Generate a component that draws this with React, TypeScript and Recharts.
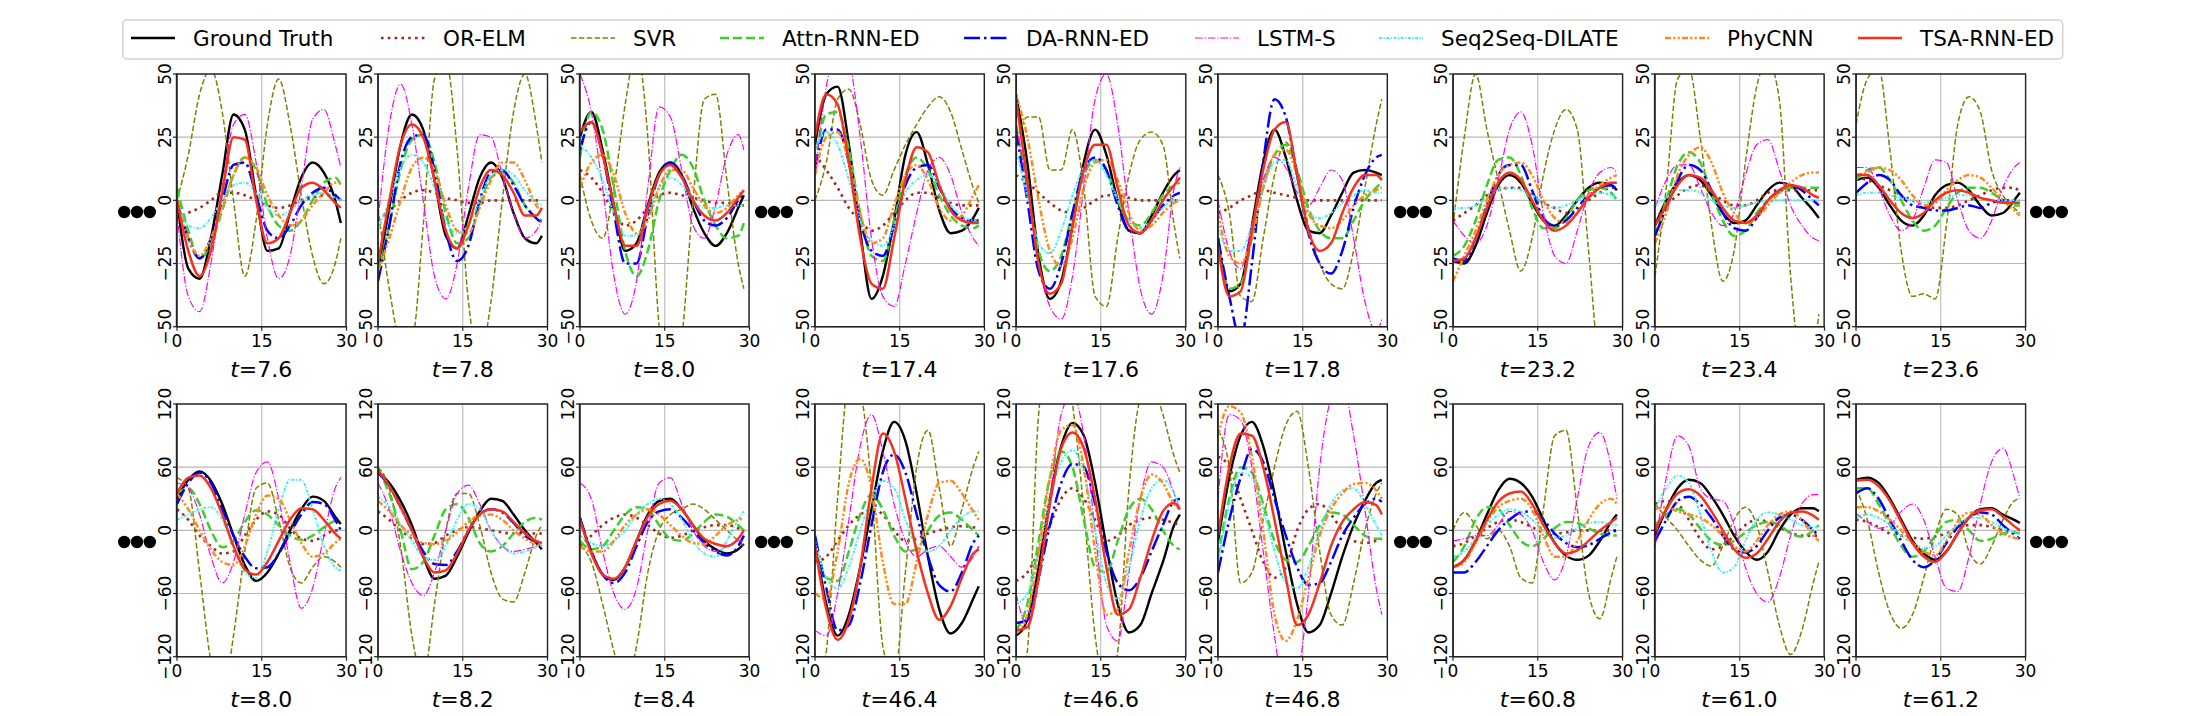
import React from 'react';
import { LineChart, Line, XAxis, YAxis, CartesianGrid } from 'recharts';

// ---------- categories / names ----------
const X_VALUES = [0, 2, 4, 6, 8, 10, 12, 14, 16, 18, 20, 22, 24, 26, 28, 29];
const X_TICKS = [0, 15, 30];
const Y_TICKS_TOP = [-50, -25, 0, 25, 50];
const Y_TICKS_BOTTOM = [-120, -60, 0, 60, 120];
const SERIES_NAMES = ['Ground Truth', 'OR-ELM', 'SVR', 'Attn-RNN-ED', 'DA-RNN-ED', 'LSTM-S', 'Seq2Seq-DILATE', 'PhyCNN', 'TSA-RNN-ED'];
const TOP_T = ['7.6', '7.8', '8.0', '17.4', '17.6', '17.8', '23.2', '23.4', '23.6'];
const BOTTOM_T = ['8.0', '8.2', '8.4', '46.4', '46.6', '46.8', '60.8', '61.0', '61.2'];

// ---------- series values (order: GT, OR-ELM, SVR, Attn, DA, LSTM-S, DILATE, PhyCNN, TSA) ----------
const T76 = [
  [0, -27, -31, -15, 10, 34, 28, 2, -20, -19, -5, 9, 15, 11, 0, -9],
  [-8, -5, -3, 0, 3, 3, 2, 0, -2, -3, -2, 0, 1, 2, 2, 2],
  [0, 18, 42, 52, 35, 0, -30, -8, 30, 48, 30, 2, -22, -33, -25, -15],
  [5, -12, -23, -17, -4, 10, 17, 12, -2, -10, -12, -8, 0, 7, 9, 6],
  [0, -15, -23, -15, 0, 14, 15, 2, -12, -15, -10, -2, 3, 5, 2, 0],
  [-5, -38, -44, -25, 5, 30, 34, 15, -15, -31, -22, 5, 32, 36, 22, 13],
  [0, -10, -11, -7, 0, 6, 7, 3, -3, -6, -4, 0, 2, 3, 1, 0],
  [0, -15, -22, -15, -3, 10, 17, 13, 2, -6, -10, -8, -2, 3, 7, 7],
  [0, -20, -30, -20, 3, 25, 24, 0, -17, -15, -5, 5, 7, 4, -1, -3],
];
const T78 = [
  [-28, -3, 22, 34, 28, 8, -14, -19, -6, 9, 15, 9, -5, -15, -17, -14],
  [-8, -4, 0, 3, 4, 3, 1, 0, -1, -1, 0, 0, 0, 0, 0, 0],
  [-3, -35, -55, -55, -10, 48, 55, 20, -40, -62, -40, 0, 35, 50, 30, 15],
  [-28, -10, 12, 24, 26, 15, -5, -17, -15, -2, 9, 11, 7, -2, -7, -8],
  [-32, -10, 15, 25, 26, 12, -12, -24, -18, 0, 11, 12, 6, -2, -7, -9],
  [-8, 30, 46, 30, 0, -30, -39, -25, 5, 26, 25, 10, -5, -15, -12, -8],
  [-12, 0, 13, 18, 15, 5, -8, -13, -10, 0, 10, 12, 10, 4, -1, -2],
  [-28, -15, 0, 13, 17, 12, -2, -12, -13, -3, 8, 15, 15, 8, -2, -5],
  [-25, 0, 22, 30, 25, 8, -12, -19, -10, 5, 12, 10, 3, -6, -6, -3],
];
const T80 = [
  [25, 35, 20, -2, -20, -17, -2, 11, 15, 10, -3, -13, -18, -13, -3, 2],
  [12, 9, 3, -5, -10, -8, -3, 2, 3, 2, 1, 0, -1, -1, -2, -2],
  [10, -8, -15, 5, 38, 60, 25, -50, -75, -55, 0, 40, 42, 8, -25, -35],
  [17, 35, 28, 5, -20, -30, -20, 0, 12, 18, 13, 0, -10, -15, -14, -9],
  [20, 31, 18, -5, -25, -25, -6, 10, 15, 10, 0, -8, -10, -7, 0, 3],
  [50, 35, 5, -30, -45, -32, 5, 37, 33, 12, -10, -15, -2, 18, 26, 20],
  [22, 17, 8, -5, -14, -14, -5, 5, 9, 6, 0, -3, -3, -2, -2, -2],
  [5, 15, 18, 10, -5, -13, -8, 5, 12, 12, 5, -2, -5, -3, 2, 4],
  [27, 31, 18, -2, -18, -18, -3, 10, 14, 9, 0, -6, -8, -5, 1, 4],
];
const T174 = [
  [22, 42, 45, 22, -12, -39, -30, -8, 18, 27, 14, -4, -13, -12, -7, -3],
  [18, 12, 5, -3, -8, -12, -10, -5, 0, 3, 3, 1, -1, -2, -2, -2],
  [0, 15, 40, 44, 30, 8, 2, 12, 22, 30, 37, 41, 35, 20, 5, -1],
  [15, 34, 35, 20, -5, -22, -24, -8, 10, 17, 12, 2, -6, -10, -11, -10],
  [12, 28, 28, 15, -8, -20, -22, -10, 6, 13, 14, 5, -3, -7, -8, -8],
  [10, 45, 60, 55, 25, -15, -38, -42, -25, -5, 12, 17, 10, -5, -15, -18],
  [20, 27, 22, 8, -8, -16, -18, -10, 3, 8, 10, 6, -2, -6, -8, -8],
  [10, 25, 27, 15, -5, -17, -15, -2, 10, 14, 8, -3, -8, -6, 2, 6],
  [25, 42, 38, 15, -15, -33, -35, -15, 8, 21, 19, 6, -4, -8, -9, -9],
];
const T176 = [
  [42, 15, -22, -39, -32, -10, 15, 28, 18, 0, -12, -13, -6, 3, 10, 12],
  [10, 7, 3, -1, -4, -5, -3, 0, 2, 2, 1, 0, 0, 0, 0, 0],
  [20, 33, 33, 12, 12, 28, 5, -38, -42, -15, 10, 24, 27, 22, -10, -23],
  [30, 5, -20, -28, -22, -5, 10, 16, 12, 0, -8, -10, -5, 2, 6, 7],
  [28, 0, -28, -35, -25, -5, 12, 17, 12, -2, -12, -13, -8, -2, 2, 3],
  [30, 5, -25, -42, -47, -30, 5, 40, 50, 30, -5, -35, -45, -30, 5, 13],
  [20, 2, -17, -21, -12, 2, 13, 16, 10, 0, -8, -11, -8, -3, 0, 0],
  [42, 25, 0, -20, -26, -15, 5, 15, 16, 8, -5, -12, -10, -5, -1, 0],
  [40, 8, -25, -37, -33, -10, 12, 22, 22, 5, -10, -13, -8, 0, 6, 9],
];
const T178 = [
  [-15, -36, -33, -10, 15, 28, 17, 0, -12, -13, -6, 3, 11, 12, 11, 10],
  [-5, -3, 0, 2, 4, 3, 2, 1, 0, 0, 0, 0, 0, 0, 0, 0],
  [10, -5, -38, -40, -15, 10, 23, 12, -10, -25, -33, -35, -20, 5, 30, 40],
  [-15, -35, -33, -15, 5, 18, 22, 12, -3, -12, -15, -15, -8, 0, 5, 7],
  [-15, -38, -55, -25, 15, 40, 33, 10, -13, -25, -29, -20, -3, 10, 17, 18],
  [0, -20, -27, -10, 8, 17, 13, 3, -2, 5, 12, 8, -15, -40, -52, -47],
  [-10, -20, -20, -10, 5, 15, 16, 5, -5, -7, -5, -1, 2, 4, 3, 3],
  [-5, -22, -25, -15, 5, 18, 20, 10, -5, -10, -11, -8, -2, 2, 4, 5],
  [-18, -38, -36, -12, 12, 28, 31, 10, -12, -20, -17, -5, 5, 10, 10, 8],
];
const T232 = [
  [-24, -25, -18, -5, 6, 10, 7, -1, -8, -10, -6, 0, 5, 7, 6, 4],
  [-8, -5, -2, 2, 4, 5, 5, 2, -1, -3, -5, -4, 0, 3, 5, 5],
  [-10, 25, 50, 28, 8, -12, -28, -15, 10, 28, 36, 28, -20, -65, -70, -70],
  [-22, -18, -8, 6, 16, 17, 10, -3, -11, -11, -7, 0, 4, 5, 3, 0],
  [-23, -24, -15, -2, 10, 14, 14, 4, -7, -10, -8, -3, 2, 5, 6, 4],
  [-8, -14, -17, -10, 8, 28, 35, 22, -5, -22, -25, -12, 3, 11, 13, 11],
  [-3, -3, -2, 1, 4, 5, 4, 2, -1, -3, -2, 0, 2, 3, 2, 1],
  [-32, -22, -12, 0, 10, 14, 15, 10, 0, -7, -9, -5, 2, 6, 9, 10],
  [-24, -23, -15, -3, 7, 11, 8, 0, -8, -12, -10, -5, 1, 5, 7, 7],
];
const T234 = [
  [-10, 0, 7, 10, 8, 2, -5, -9, -8, -2, 4, 7, 6, 1, -4, -7],
  [-8, -2, 2, 5, 6, 3, 0, -2, -2, 0, 3, 4, 4, 4, 4, 4],
  [-30, 5, 48, 52, 25, -10, -32, -20, 15, 45, 55, 40, -30, -65, -60, -45],
  [-14, 0, 14, 19, 15, 3, -8, -14, -12, -5, 0, 3, 5, 5, 5, 5],
  [-14, -3, 8, 14, 12, 4, -5, -11, -12, -7, 0, 4, 6, 4, 0, -2],
  [-3, 8, 14, 14, 5, -5, -10, -5, 10, 22, 24, 12, -2, -10, -15, -16],
  [-2, 1, 4, 4, 3, 0, -2, -3, -2, -1, 0, 0, 0, 0, 0, 0],
  [-17, -5, 10, 18, 21, 15, 3, -5, -9, -7, -2, 3, 7, 10, 11, 11],
  [-10, -2, 6, 10, 9, 4, -3, -8, -9, -6, 0, 4, 6, 5, 2, 1],
];
const T236 = [
  [8, 9, 5, -2, -8, -10, -6, 2, 6, 7, 4, -2, -6, -5, 0, 3],
  [9, 8, 6, 4, 2, 0, -2, -3, -3, -2, 0, 2, 4, 5, 5, 3],
  [30, 48, 52, 20, -20, -38, -37, -39, -10, 30, 41, 35, 12, 2, -3, -5],
  [8, 12, 13, 8, 0, -8, -12, -10, -3, 3, 5, 5, 3, 0, -2, -2],
  [3, 7, 10, 8, 2, -2, -3, -4, -4, -3, -2, -3, -1, 0, 0, 0],
  [13, 13, 5, -6, -12, -8, 5, 16, 15, 0, -12, -15, -8, 5, 13, 15],
  [2, 3, 3, 2, 1, 0, -1, 0, 1, 2, 2, 1, 0, 0, 0, 0],
  [10, 11, 13, 12, 8, 2, -2, -1, 4, 8, 10, 9, 5, 0, -4, -6],
  [10, 10, 6, 0, -5, -7, -5, 0, 3, 4, 3, 1, 0, -1, -1, -1],
];
const B80 = [
  [30, 48, 56, 47, 25, -5, -33, -48, -40, -22, 0, 20, 32, 28, 13, 6],
  [20, 10, -5, -15, -22, -20, -5, 10, 18, 15, 2, -8, -10, -5, 0, 0],
  [50, 40, -40, -125, -160, -100, -20, 40, 45, 10, -35, -50, -35, -25, -30, -35],
  [35, 40, 25, 0, -16, -10, 8, 19, 15, 5, -5, -9, -5, 3, 9, 10],
  [25, 45, 55, 45, 20, -5, -25, -36, -35, -22, -3, 15, 27, 25, 10, 0],
  [45, 40, 15, -25, -50, -30, 15, 55, 65, 30, -30, -74, -55, -5, 40, 50],
  [10, 15, 20, 22, 10, -15, -40, -45, -20, 20, 48, 48, 20, -15, -35, -38],
  [35, 20, 0, -18, -30, -33, -15, 15, 33, 30, 10, -12, -25, -22, -12, -8],
  [35, 50, 52, 40, 15, -15, -37, -42, -30, -10, 10, 21, 20, 10, -3, -8],
];
const B82 = [
  [55, 45, 28, 5, -25, -46, -43, -25, -2, 18, 30, 28, 15, 0, -12, -18],
  [18, 10, 0, -8, -13, -12, -5, 0, 3, 2, 0, -2, -3, -3, -3, -3],
  [60, 40, -15, -100, -140, -70, 0, 35, 35, 5, -40, -65, -68, -40, -5, 5],
  [58, 35, 0, -37, -30, -5, 20, 25, 12, -12, -20, -15, -3, 8, 12, 10],
  [55, 42, 22, 0, -20, -32, -33, -20, 0, 15, 20, 17, 7, -5, -11, -13],
  [45, 20, -20, -50, -62, -40, 0, 35, 43, 25, 0, -15, -20, -18, -15, -12],
  [32, 22, 5, -10, -25, -28, -15, 10, 25, 20, 0, -15, -22, -20, -16, -15],
  [28, 18, 5, -5, -12, -13, -10, -2, 8, 14, 15, 10, 0, -8, -13, -15],
  [57, 42, 22, 0, -25, -40, -38, -22, 0, 15, 20, 18, 8, -3, -10, -12],
];
const B84 = [
  [10, -20, -42, -47, -35, -10, 15, 28, 30, 20, 5, -10, -18, -22, -18, -13],
  [-15, -5, 5, 12, 15, 12, 5, -3, -7, -5, 0, 3, 5, 5, 2, 0],
  [-15, -30, -70, -115, -150, -110, -40, 0, 15, 20, 25, 20, 10, 0, -10, -15],
  [-10, -18, -15, 0, 15, 22, 20, 5, -8, -10, -3, 8, 15, 13, 5, 0],
  [12, -20, -42, -50, -40, -15, 8, 18, 20, 12, 0, -12, -20, -24, -15, -5],
  [45, 30, -20, -60, -75, -55, 0, 45, 50, 25, 0, -15, -20, -15, -10, -10],
  [-5, -12, -15, -10, 0, 15, 25, 30, 25, 10, -10, -22, -25, -10, 10, 18],
  [-15, -20, -20, -10, 5, 15, 20, 15, 5, -5, -12, -13, -5, 5, 10, 12],
  [10, -22, -42, -46, -35, -10, 13, 25, 28, 20, 5, -8, -13, -15, -8, 0],
];
const B464 = [
  [-10, -70, -100, -80, -35, 20, 75, 103, 85, 35, -25, -75, -98, -88, -65, -53],
  [-30, -25, -10, 5, 15, 20, 15, 0, -10, -8, -3, 0, 3, 4, 3, 2],
  [-160, -115, 30, 140, 130, 40, -110, -140, -40, 60, 95, 40, -15, 20, 60, 75],
  [-20, -45, -48, -20, 15, 34, 20, -5, -20, -18, 0, 14, 17, 10, 0, -5],
  [-5, -55, -95, -90, -50, 5, 55, 72, 55, 15, -25, -52, -58, -40, -12, -5],
  [-95, -100, -60, 10, 80, 110, 75, 25, -10, -25, -18, -15, -25, -35, -25, -15],
  [-10, -45, -55, -35, 0, 30, 47, 40, 10, -15, -20, -15, 0, 12, 18, 18],
  [-60, -65, -20, 45, 68, 40, -30, -70, -70, -30, 15, 45, 47, 35, 18, 10],
  [-15, -75, -104, -85, -35, 40, 92, 75, 30, -20, -60, -85, -72, -45, -22, -18],
];
const B466 = [
  [-100, -85, -35, 30, 80, 102, 90, 45, -15, -70, -97, -90, -60, -30, 5, 15],
  [-48, -40, -20, 5, 30, 40, 30, 10, -10, -5, 5, 10, 12, 10, 7, 5],
  [-160, -115, 110, 170, 170, 120, 20, -100, -150, -115, 40, 125, 140, 110, 70, 55],
  [-95, -70, -10, 50, 75, 60, 10, -35, -40, -10, 20, 30, 20, 0, -15, -18],
  [-88, -85, -45, 5, 45, 63, 60, 25, -20, -50, -57, -45, -20, 5, 28, 30],
  [-60, -90, -50, 30, 110, 130, 90, 0, -90, -105, -40, 30, 65, 60, 35, 20],
  [-70, -60, -20, 30, 65, 76, 55, 0, -50, -65, -35, 10, 40, 48, 35, 20],
  [-98, -80, -20, 50, 95, 100, 60, -20, -80, -75, -20, 30, 53, 45, 25, 20],
  [-95, -92, -45, 25, 78, 93, 78, 30, -35, -80, -75, -45, -10, 18, 26, 20],
];
const B468 = [
  [-10, 50, 90, 103, 80, 35, -20, -70, -97, -90, -60, -25, 5, 28, 45, 48],
  [70, 60, 30, 0, -30, -45, -35, 0, 20, 25, 15, 0, -10, -12, -10, -8],
  [95, 60, -50, -40, 10, 60, 100, 113, 60, -20, -80, -90, -50, 0, 35, 45],
  [-25, 30, 60, 55, 25, -10, -28, -30, -15, 5, 17, 15, 5, -5, -8, -8],
  [-40, 10, 50, 77, 65, 30, -5, -35, -52, -50, -30, -5, 12, 25, 30, 27],
  [30, 110, 105, 60, -20, -100, -160, -140, -60, 60, 125, 140, 90, 20, -55, -80],
  [-30, 25, 55, 50, 20, -20, -50, -55, -35, 0, 25, 38, 40, 25, 5, -5],
  [90, 118, 112, 70, 0, -80, -105, -85, -45, -5, 20, 35, 44, 45, 38, 30],
  [-5, 60, 92, 90, 60, 10, -45, -90, -80, -50, -15, 8, 20, 27, 24, 15],
];
const B608 = [
  [-35, -28, -10, 15, 38, 49, 45, 32, 10, -12, -24, -28, -24, -10, 8, 15],
  [-15, -12, -5, 2, 8, 10, 8, 3, -2, -3, -2, 0, 0, 0, 0, 0],
  [0, 17, 5, -8, 0, -15, -45, -50, 20, 90, 95, 20, -60, -84, -45, -25],
  [-30, -15, 10, 22, 20, 5, -10, -15, -8, 2, 8, 7, 2, -3, -5, -5],
  [-40, -40, -30, -15, 0, 10, 17, 18, 10, -3, -12, -16, -14, -8, -2, 0],
  [-10, -8, -5, -5, 5, 18, 15, 0, -30, -47, -25, 30, 80, 93, 60, 30],
  [-25, -20, -8, 5, 15, 20, 18, 10, 0, -7, -5, 2, 7, 8, 6, 5],
  [-35, -30, -12, 8, 22, 28, 30, 20, -5, -25, -25, -10, 10, 25, 30, 25],
  [-35, -28, -10, 10, 27, 35, 37, 25, 5, -12, -22, -19, -10, 0, 8, 12],
];
const B610 = [
  [-5, 20, 40, 48, 45, 32, 15, -5, -20, -28, -20, 0, 15, 21, 21, 18],
  [25, 28, 25, 10, -8, -18, -15, -5, 5, 10, 8, 3, -2, -5, -5, -5],
  [25, 12, 0, -15, -28, -34, -15, 10, 22, 5, -40, -90, -118, -95, -50, -30],
  [5, 15, 20, 15, 2, -10, -14, -10, -2, 5, 8, 5, -3, -6, 0, 5],
  [-10, 10, 28, 32, 25, 12, -5, -18, -21, -15, 0, 12, 15, 10, 0, -5],
  [-15, 50, 90, 80, 40, 30, 28, 5, -35, -60, -68, -45, -5, 25, 34, 34],
  [20, 40, 52, 45, 15, -20, -40, -35, -10, 10, 17, 15, 10, 5, 3, 3],
  [20, 22, 18, 15, 12, 5, -5, -15, -20, -10, 5, 15, 18, 10, -5, -10],
  [0, 20, 35, 39, 33, 18, 0, -18, -26, -22, -8, 8, 17, 18, 14, 10],
];
const B612 = [
  [48, 50, 45, 30, 10, -10, -22, -28, -20, -3, 12, 20, 21, 15, 10, 7],
  [10, 8, 3, -3, -5, -7, -8, -6, -3, 2, 5, 5, 3, 0, -2, -2],
  [40, 10, -40, -78, -93, -80, -45, -5, 20, 15, -20, -32, -15, 10, 28, 30],
  [40, 40, 25, 5, -15, -25, -20, -5, 8, 10, 0, -10, -8, -3, -2, -3],
  [35, 40, 30, 10, -10, -28, -35, -28, -12, 3, 12, 17, 15, 5, -4, -8],
  [16, 8, 2, 5, 18, 25, 10, -25, -55, -58, -25, 25, 65, 78, 50, 30],
  [12, 15, 12, 5, -5, -12, -17, -15, -5, 5, 12, 12, 8, 2, -2, -3],
  [22, 22, 18, 10, 0, -12, -20, -24, -10, 8, 17, 15, 5, -3, -7, -8],
  [47, 48, 42, 28, 8, -12, -25, -30, -20, -3, 12, 19, 20, 13, 4, 0],
];

const TOP_DATA = [T76, T78, T80, T174, T176, T178, T232, T234, T236];
const BOTTOM_DATA = [B80, B82, B84, B464, B466, B468, B608, B610, B612];

// ---------- styles ----------
const SERIES_COLORS = ['#000000', '#a3291f', '#808000', '#3ccf2c', '#0000ff', '#ff00ff', '#3ff0f0', '#ff8c1a', '#f5321e'];
const SERIES_WIDTHS = [2.4, 2.6, 1.5, 2.5, 2.5, 1.2, 2.0, 2.5, 2.5];
const SERIES_DASHES = [undefined, '2.6 4.2', '5.5 2.4', '9 4', '16 4 2.5 4', '7.7 1.9 1.2 1.9', '3 1.5 1.2 1.5', '6 2.2 2.2 2.2 2.2 2.2', undefined];

const FONT = 'DejaVu Sans, Verdana, sans-serif';
const PLOT_W = 169.5;
const PLOT_H = 252.7;
const ROW_TOP = [74, 404];
const YW = 40;
const MT = 26;
const MR = 26;
const XH = 40;

const LEGEND_TEXT_X = [193, 443, 633, 782, 1026, 1257, 1441, 1727, 1920];
const DOT_CENTERS = [137, 774, 1413, 2049];
const DOT_Y = [212, 542];

function panelLeft(i: number) {
  const g = Math.floor(i / 3);
  const p = i % 3;
  return 176.5 + g * 638.3 + p * 201.5;
}

function fmt(v: number) {
  return v < 0 ? '\u2212' + Math.abs(v) : String(v);
}

function buildRows(series: number[][]) {
  return X_VALUES.map((x, i) => {
    const r: Record<string, number> = { x };
    series.forEach((s, k) => {
      r['s' + k] = s[i];
    });
    return r;
  });
}

const YTick = (props: any) => {
  const { x, y, payload } = props;
  return (
    <text x={x} y={y} transform={`rotate(-90 ${x} ${y})`} textAnchor="middle" fontSize={17} fill="#000" fontFamily={FONT}>
      {fmt(payload.value)}
    </text>
  );
};

const XTick = (props: any) => {
  const { x, y, payload } = props;
  return (
    <text x={x} y={y + 14} textAnchor="middle" fontSize={17} fill="#000" fontFamily={FONT}>
      {fmt(payload.value)}
    </text>
  );
};

function Panel({ series, left, top, yTicks }: { series: number[][]; left: number; top: number; yTicks: number[] }) {
  const rows = buildRows(series);
  const dom: [number, number] = [yTicks[0], yTicks[yTicks.length - 1]];
  return (
    <div style={{ position: 'absolute', left: left - YW, top: top - MT }}>
      <LineChart width={YW + PLOT_W + MR} height={MT + PLOT_H + XH} data={rows} margin={{ top: MT, right: MR, left: 0, bottom: 0 }}>
        <CartesianGrid stroke="#b8b8b8" strokeWidth={1.1} />
        <XAxis
          dataKey="x"
          type="number"
          domain={[0, 30]}
          ticks={X_TICKS}
          height={XH}
          tickSize={4}
          tick={<XTick />}
          axisLine={{ stroke: '#222', strokeWidth: 1.3 }}
          tickLine={{ stroke: '#222', strokeWidth: 1.2 }}
          allowDataOverflow
          interval={0}
        />
        <YAxis
          type="number"
          domain={dom}
          ticks={yTicks}
          width={YW}
          tickSize={4}
          tick={<YTick />}
          axisLine={{ stroke: '#222', strokeWidth: 1.3 }}
          tickLine={{ stroke: '#222', strokeWidth: 1.2 }}
          allowDataOverflow
          interval={0}
        />
        {SERIES_NAMES.map((name, k) => (
          <Line
            key={name}
            dataKey={'s' + k}
            name={name}
            type="monotone"
            stroke={SERIES_COLORS[k]}
            strokeWidth={SERIES_WIDTHS[k]}
            strokeDasharray={SERIES_DASHES[k]}
            dot={false}
            activeDot={false}
            isAnimationActive={false}
          />
        ))}
      </LineChart>
    </div>
  );
}

export default function App() {
  const panels: React.ReactNode[] = [];
  TOP_DATA.forEach((s, i) => {
    panels.push(<Panel key={'t' + i} series={s} left={panelLeft(i)} top={ROW_TOP[0]} yTicks={Y_TICKS_TOP} />);
  });
  BOTTOM_DATA.forEach((s, i) => {
    panels.push(<Panel key={'b' + i} series={s} left={panelLeft(i)} top={ROW_TOP[1]} yTicks={Y_TICKS_BOTTOM} />);
  });

  return (
    <div style={{ position: 'absolute', left: 0, top: 0, width: 2192, height: 716, background: '#fff', overflow: 'hidden', fontFamily: FONT }}>
      {panels}
      <svg width={2192} height={716} style={{ position: 'absolute', left: 0, top: 0, pointerEvents: 'none' }}>
        {/* frames */}
        {[0, 1].map((r) =>
          TOP_T.map((_, i) => (
            <rect key={`f${r}-${i}`} x={panelLeft(i)} y={ROW_TOP[r]} width={PLOT_W} height={PLOT_H} fill="none" stroke="#222" strokeWidth={1.4} />
          ))
        )}
        {/* t labels */}
        {[TOP_T, BOTTOM_T].map((labels, r) =>
          labels.map((lab, i) => (
            <text key={`l${r}-${i}`} x={panelLeft(i) + PLOT_W / 2} y={ROW_TOP[r] + PLOT_H + 50} textAnchor="middle" fontSize={22} fontFamily={FONT} fill="#000">
              <tspan fontStyle="italic">t</tspan>
              <tspan>={lab}</tspan>
            </text>
          ))
        )}
        {/* ellipsis dots */}
        {DOT_Y.map((cy, r) =>
          DOT_CENTERS.map((cx, j) => (
            <g key={`d${r}-${j}`}>
              {[-12.8, 0, 12.8].map((dx) => (
                <circle key={dx} cx={cx + dx} cy={cy} r={6.2} fill="#000" />
              ))}
            </g>
          ))
        )}
        {/* legend */}
        <rect x={122.7} y={20} width={1940} height={39} rx={4} ry={4} fill="#fff" stroke="#d2d2d2" strokeWidth={1.5} />
        {SERIES_NAMES.map((name, k) => {
          const tx = LEGEND_TEXT_X[k];
          return (
            <g key={'lg' + k}>
              <line x1={tx - 62} x2={tx - 18} y1={38} y2={38} stroke={SERIES_COLORS[k]} strokeWidth={SERIES_WIDTHS[k]} strokeDasharray={SERIES_DASHES[k]} />
              <text x={tx} y={46} fontSize={21.5} fontFamily={FONT} fill="#000">
                {name}
              </text>
            </g>
          );
        })}
      </svg>
    </div>
  );
}
